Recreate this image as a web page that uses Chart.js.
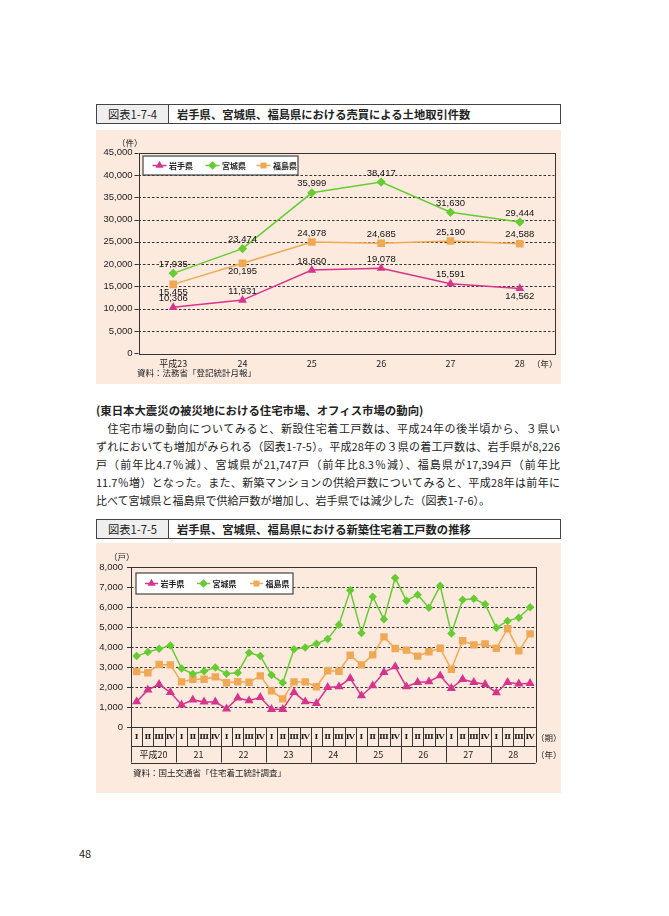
<!DOCTYPE html>
<html lang="ja">
<head>
<meta charset="utf-8">
<script src="https://cdn.jsdelivr.net/npm/chart.js@4.4.0/dist/chart.umd.min.js"></script>
<style>
body { margin:0; width:669px; height:916px; background:#fff; position:relative; overflow:hidden;
  font-family:"Noto Sans CJK JP", sans-serif; color:#222; }
.hdr { position:absolute; left:96px; width:465px; height:20px; border:1px solid #444; box-sizing:border-box; font-size:11.3px; }
.hdr .no { position:absolute; left:0; top:0; width:71px; height:18px; border-right:1px solid #444; background:#efefef; text-align:center; line-height:18px; }
.hdr .tt { position:absolute; left:80px; top:0; line-height:18px; font-weight:bold; white-space:nowrap; }
.panel { position:absolute; left:96px; width:465px; background:#fdeadf; }
.box { position:absolute; left:96px; width:465px; }
.t { position:absolute; font-size:8.5px; white-space:nowrap; line-height:10px; }
.ln { position:absolute; left:96px; width:464px; font-size:11px; line-height:18px; height:18px; white-space:nowrap; text-align:justify; text-align-last:justify; }
</style>
</head>
<body>
<div class="hdr" style="top:104px"><div class="no">図表1-7-4</div><div class="tt">岩手県、宮城県、福島県における売買による土地取引件数</div></div>
<div class="panel" style="top:130px;height:254px"></div>
<div class="box" style="top:130px;height:254px"><canvas id="chart1"></canvas></div>
<div class="t" style="left:117px;top:137px">（件）</div>
<div class="t" style="left:532px;top:358px">（年）</div>
<div class="t" style="left:137px;top:367px">資料：法務省「登記統計月報」</div>

<div class="ln" style="top:401px;font-weight:bold;text-align-last:left;font-size:11.4px">(東日本大震災の被災地における住宅市場、オフィス市場の動向)</div>
<div class="ln" style="top:419px">　住宅市場の動向についてみると、新設住宅着工戸数は、平成24年の後半頃から、３県い</div>
<div class="ln" style="top:437px">ずれにおいても増加がみられる（図表1-7-5）。平成28年の３県の着工戸数は、岩手県が8,226</div>
<div class="ln" style="top:455px">戸（前年比4.7％減）、宮城県が21,747戸（前年比8.3％減）、福島県が17,394戸（前年比</div>
<div class="ln" style="top:473px">11.7％増）となった。また、新築マンションの供給戸数についてみると、平成28年は前年に</div>
<div class="ln" style="top:491px;text-align-last:left">比べて宮城県と福島県で供給戸数が増加し、岩手県では減少した（図表1-7-6）。</div>

<div class="hdr" style="top:519px"><div class="no">図表1-7-5</div><div class="tt">岩手県、宮城県、福島県における新築住宅着工戸数の推移</div></div>
<div class="panel" style="top:543px;height:250px"></div>
<div class="box" style="top:543px;height:250px"><canvas id="chart2"></canvas></div>
<div class="t" style="left:109px;top:551px">（戸）</div>
<div class="t" style="left:536px;top:732px">（期）</div>
<div class="t" style="left:536px;top:749px">（年）</div>
<div class="t" style="left:133px;top:767px">資料：国土交通省「住宅着工統計調査」</div>

<div class="t" style="left:79px;top:847px;font-size:11px;line-height:12px">48</div>

<script>
// 図表1-7-4 データ
const years1 = ['平成23', '24', '25', '26', '27', '28'];
const iwate1 = [10306, 11931, 18660, 19078, 15591, 14562];
const miyagi1 = [17935, 23474, 35999, 38417, 31630, 29444];
const fukushima1 = [15455, 20195, 24978, 24685, 25190, 24588];

// 図表1-7-5 データ（四半期）
const quarters = ['Ⅰ','Ⅱ','Ⅲ','Ⅳ','Ⅰ','Ⅱ','Ⅲ','Ⅳ','Ⅰ','Ⅱ','Ⅲ','Ⅳ','Ⅰ','Ⅱ','Ⅲ','Ⅳ','Ⅰ','Ⅱ','Ⅲ','Ⅳ',
                  'Ⅰ','Ⅱ','Ⅲ','Ⅳ','Ⅰ','Ⅱ','Ⅲ','Ⅳ','Ⅰ','Ⅱ','Ⅲ','Ⅳ','Ⅰ','Ⅱ','Ⅲ','Ⅳ'];
const years2 = ['平成20', '21', '22', '23', '24', '25', '26', '27', '28'];
const iwate2 = [1280, 1870, 2150, 1750, 1120, 1370, 1270, 1270, 920, 1470, 1330, 1500,
                900, 900, 1750, 1280, 1200, 2000, 2030, 2450, 1580, 2080, 2750, 3030,
                2030, 2250, 2280, 2580, 1950, 2400, 2250, 2150, 1730, 2250, 2170, 2200];
const miyagi2 = [3560, 3760, 3930, 4090, 2940, 2670, 2800, 2990, 2680, 2730, 3730, 3560,
                 2620, 2230, 3900, 3990, 4180, 4420, 5130, 6850, 4720, 6530, 5400, 7470,
                 6330, 6630, 5980, 7080, 4690, 6380, 6430, 6150, 4980, 5320, 5480, 6000];
const fukushima2 = [2790, 2730, 3140, 3120, 2270, 2400, 2400, 2520, 2230, 2280, 2250, 2570,
                    1820, 1420, 2270, 2270, 2030, 2830, 2800, 3600, 3120, 3620, 4520, 3940,
                    3860, 3560, 3780, 3950, 2900, 4330, 4120, 4170, 3950, 4930, 3830, 4670];

const PINK = '#d8348c', GREEN = '#66cc33', ORANGE = '#efa954';
const names = ['岩手県', '宮城県', '福島県'];

Chart.defaults.font.family = '"Liberation Sans", Arial, sans-serif';
Chart.defaults.color = '#222';

// 枠と点線グリッド
const frame = {
  id: 'frame',
  beforeDatasetsDraw(chart) {
    const { ctx, chartArea: a, scales: { y } } = chart;
    ctx.save();
    ctx.strokeStyle = '#333';
    ctx.lineWidth = 1;
    ctx.setLineDash([2.5, 2]);
    y.ticks.forEach(t => {
      if (t.value === y.min || t.value === y.max) return;
      const py = Math.round(y.getPixelForValue(t.value)) + 0.5;
      ctx.beginPath(); ctx.moveTo(a.left, py); ctx.lineTo(a.right, py); ctx.stroke();
    });
    ctx.setLineDash([]);
    ctx.strokeRect(Math.round(a.left) + 0.5, Math.round(a.top) + 0.5, Math.round(a.width), Math.round(a.height));
    y.ticks.forEach(t => {
      const py = Math.round(y.getPixelForValue(t.value)) + 0.5;
      ctx.beginPath(); ctx.moveTo(a.left - 4, py); ctx.lineTo(a.left, py); ctx.stroke();
    });
    ctx.restore();
  }
};

// 凡例（枠つき）
const boxLegend = {
  id: 'boxLegend',
  afterDatasetsDraw(chart, args, opts) {
    const { ctx, chartArea: a } = chart;
    const x0 = a.left + opts.x, y0 = a.top + opts.y;
    ctx.save();
    ctx.fillStyle = '#fff';
    ctx.fillRect(x0, y0, opts.w, opts.h);
    ctx.strokeStyle = '#444';
    ctx.lineWidth = 1.2;
    ctx.strokeRect(x0, y0, opts.w, opts.h);
    const cy = y0 + opts.h / 2;
    chart.data.datasets.forEach((ds, i) => {
      const lx = x0 + opts.items[i];
      ctx.strokeStyle = ds.borderColor;
      ctx.lineWidth = 1.5;
      ctx.beginPath(); ctx.moveTo(lx, cy); ctx.lineTo(lx + opts.len, cy); ctx.stroke();
      ctx.fillStyle = ds.borderColor;
      Chart.helpers.drawPoint(ctx, { pointStyle: ds.pointStyle, radius: opts.r, rotation: 0, borderWidth: 1 }, lx + opts.len / 2, cy);
      ctx.fillStyle = '#222';
      ctx.font = 'bold 8px "Noto Sans CJK JP"';
      ctx.textBaseline = 'middle';
      ctx.fillText(ds.label, lx + opts.len + 2.5, cy + 0.5);
    });
    ctx.restore();
  }
};

// 図表1-7-4 の数値ラベル（-1: 上, 1: 下）
const labelSide = [[-1, -1, -1, -1, -1, 1], [-1, -1, -1, -1, -1, -1], [1, 1, -1, -1, -1, -1]];
const valueLabels = {
  id: 'valueLabels',
  afterDatasetsDraw(chart) {
    const { ctx } = chart;
    ctx.save();
    ctx.font = '9.5px "Liberation Sans", Arial';
    ctx.fillStyle = '#111';
    ctx.textAlign = 'center';
    ctx.textBaseline = 'middle';
    chart.data.datasets.forEach((ds, i) => {
      chart.getDatasetMeta(i).data.forEach((pt, j) => {
        const dy = labelSide[i][j] < 0 ? -9 : 8;
        ctx.fillText(ds.data[j].toLocaleString('en-US'), pt.x, pt.y + dy);
      });
    });
    ctx.restore();
  }
};

// 図表1-7-5 の期・年の表
const quarterTable = {
  id: 'quarterTable',
  afterDraw(chart) {
    const { ctx, chartArea: a, scales: { x } } = chart;
    const half = (x.getPixelForValue(1) - x.getPixelForValue(0)) / 2;
    const y0 = a.bottom, y1 = y0 + 18.7, y2 = y1 + 16.5;
    ctx.save();
    ctx.strokeStyle = '#333';
    ctx.lineWidth = 1;
    [y1, y2].forEach(yy => {
      ctx.beginPath(); ctx.moveTo(a.left, Math.round(yy) + 0.5); ctx.lineTo(a.right, Math.round(yy) + 0.5); ctx.stroke();
    });
    ctx.textAlign = 'center';
    ctx.textBaseline = 'middle';
    ctx.fillStyle = '#222';
    for (let i = 0; i <= quarters.length; i++) {
      const bx = Math.round(x.getPixelForValue(i) - half) + 0.5;
      const yEnd = (i % 4 === 0) ? y2 : y1;
      ctx.beginPath(); ctx.moveTo(bx, y0); ctx.lineTo(bx, yEnd); ctx.stroke();
      if (i < quarters.length) {
        ctx.font = 'bold 8px "DejaVu Serif", serif';
        ctx.fillText(quarters[i], x.getPixelForValue(i), (y0 + y1) / 2 + 0.5);
      }
    }
    ctx.font = '9px "Noto Sans CJK JP", sans-serif';
    years2.forEach((yr, k) => {
      const cx = (x.getPixelForValue(k * 4) + x.getPixelForValue(k * 4 + 3)) / 2;
      ctx.fillText(yr, cx, (y1 + y2) / 2 + 0.5);
    });
    ctx.restore();
  }
};

const fmt = v => v.toLocaleString('en-US');

const chart1 = new Chart(document.getElementById('chart1'), {
  type: 'line',
  data: {
    labels: years1,
    datasets: [
      { label: names[0], data: iwate1, borderColor: PINK, backgroundColor: PINK, pointStyle: 'triangle', pointRadius: 3.6, borderWidth: 1.5 },
      { label: names[1], data: miyagi1, borderColor: GREEN, backgroundColor: GREEN, pointStyle: 'rectRot', pointRadius: 3.6, borderWidth: 1.5 },
      { label: names[2], data: fukushima1, borderColor: ORANGE, backgroundColor: ORANGE, pointStyle: 'rect', pointRadius: 4.3, borderWidth: 1.5 }
    ]
  },
  options: {
    responsive: true,
    maintainAspectRatio: false,
    animation: false,
    layout: { padding: { top: 22.7, right: 6.5, left: 0, bottom: 0 } },
    scales: {
      x: {
        offset: true,
        grid: { display: false, drawTicks: false }, border: { display: false },
        ticks: { font: { size: 9, family: '"Noto Sans CJK JP", sans-serif' }, padding: 5, maxRotation: 0 },
        afterFit: s => { s.height = 30.7; }
      },
      y: {
        min: 0, max: 45000,
        grid: { display: false, drawTicks: false }, border: { display: false },
        ticks: { stepSize: 5000, callback: fmt, font: { size: 9.5 }, padding: 6 },
        afterFit: s => { s.width = 42.5; }
      }
    },
    plugins: {
      legend: { display: false },
      tooltip: { enabled: false },
      boxLegend: { x: 4.5, y: 3.3, w: 155, h: 19, items: [9.5, 62.5, 113.5], len: 14, r: 3.2 }
    }
  },
  plugins: [frame, valueLabels, boxLegend]
});

const chart2 = new Chart(document.getElementById('chart2'), {
  type: 'line',
  data: {
    labels: quarters,
    datasets: [
      { label: names[0], data: iwate2, borderColor: PINK, backgroundColor: PINK, pointStyle: 'triangle', pointRadius: 3.8, borderWidth: 1.5 },
      { label: names[1], data: miyagi2, borderColor: GREEN, backgroundColor: GREEN, pointStyle: 'rectRot', pointRadius: 3.2, borderWidth: 1.5 },
      { label: names[2], data: fukushima2, borderColor: ORANGE, backgroundColor: ORANGE, pointStyle: 'rect', pointRadius: 4.2, borderWidth: 1.5 }
    ]
  },
  options: {
    responsive: true,
    maintainAspectRatio: false,
    animation: false,
    layout: { padding: { top: 24.3, right: 25.3, left: 0, bottom: 65.7 } },
    scales: {
      x: { display: false, offset: true },
      y: {
        min: 0, max: 8000,
        grid: { display: false, drawTicks: false }, border: { display: false },
        ticks: { stepSize: 1000, callback: fmt, font: { size: 9.5 }, padding: 8 },
        afterFit: s => { s.width = 35; }
      }
    },
    plugins: {
      legend: { display: false },
      tooltip: { enabled: false },
      boxLegend: { x: 5, y: 5.7, w: 157, h: 21, items: [9, 61, 114], len: 13, r: 3.2 }
    }
  },
  plugins: [frame, boxLegend, quarterTable]
});
</script>
</body>
</html>
